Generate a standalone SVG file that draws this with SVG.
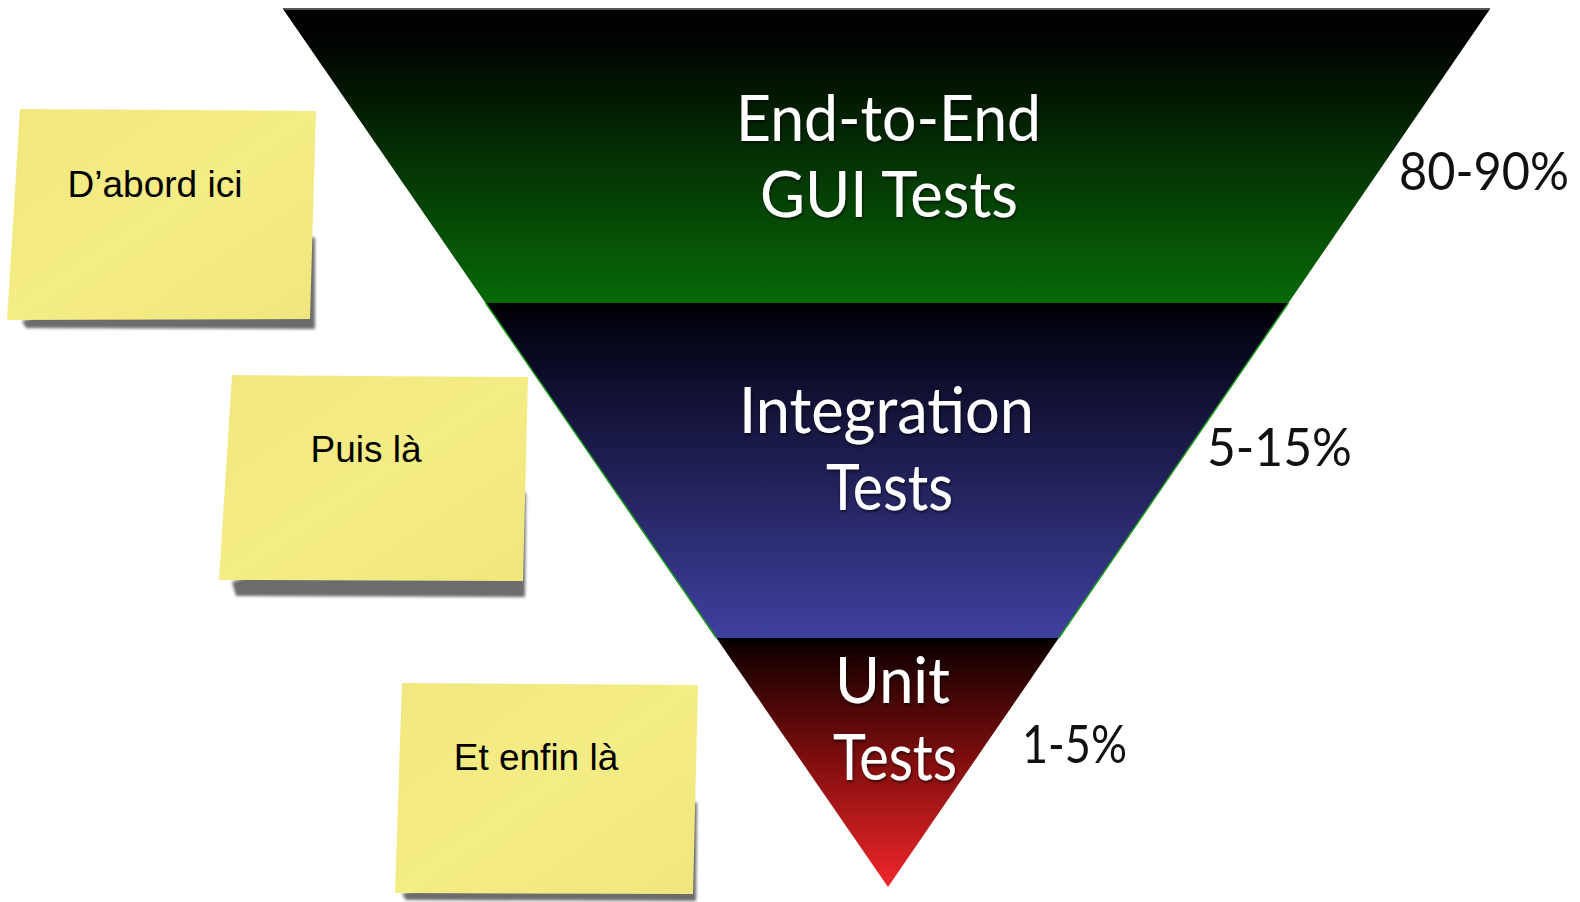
<svg xmlns="http://www.w3.org/2000/svg" width="1580" height="902" viewBox="0 0 1580 902">
<style>
.band-label{font-family:Lato,"Open Sans","DejaVu Sans",sans-serif;fill:#ffffff;text-anchor:middle;font-size:64px;filter:url(#tshadow)}
.pct{font-family:Lato,"Open Sans","DejaVu Sans",sans-serif;fill:#111111;font-size:52px}
.note-text{font-family:"Liberation Sans",Arial,sans-serif;fill:#000000;font-size:37px;text-anchor:middle}
.note{fill:url(#noteFill)}
.shadow{fill:#6c6c6c;filter:url(#blur)}
</style>
<defs>
<linearGradient id="gGreen" x1="0" y1="0" x2="0" y2="1">
<stop offset="0" stop-color="#000000"/>
<stop offset="0.12" stop-color="#010401"/>
<stop offset="1" stop-color="#076a07"/>
</linearGradient>
<linearGradient id="gBlue" x1="0" y1="0" x2="0" y2="1">
<stop offset="0" stop-color="#000000"/>
<stop offset="0.08" stop-color="#040416"/>
<stop offset="1" stop-color="#4040a0"/>
</linearGradient>
<linearGradient id="gRed" x1="0" y1="0" x2="0" y2="1">
<stop offset="0" stop-color="#000000"/>
<stop offset="0.05" stop-color="#160000"/>
<stop offset="0.5" stop-color="#820e0e"/>
<stop offset="1" stop-color="#f0262a"/>
</linearGradient>
<linearGradient id="noteFill" x1="0" y1="0" x2="1" y2="1">
<stop offset="0" stop-color="#f2e77f"/>
<stop offset="0.5" stop-color="#f4ec85"/>
<stop offset="1" stop-color="#f1e67e"/>
</linearGradient>
<filter id="blur" x="-10%" y="-10%" width="120%" height="120%">
<feGaussianBlur stdDeviation="1.5"/>
</filter>
<filter id="tshadow" x="-10%" y="-20%" width="120%" height="140%">
<feDropShadow dx="1" dy="2" stdDeviation="1.5" flood-color="#000000" flood-opacity="0.6"/>
</filter>
</defs>

<g id="band-e2e">
<polygon points="283,9 1490,9 1288.4,303 485.6,303" fill="url(#gGreen)"/>
<line x1="283" y1="9" x2="1490" y2="9" stroke="#555555" stroke-width="2"/>
<text class="band-label" x="888.5" y="141" textLength="305" lengthAdjust="spacingAndGlyphs">End-to-End</text>
<text class="band-label" x="889" y="217" textLength="258" lengthAdjust="spacingAndGlyphs">GUI Tests</text>
</g>

<g id="band-integration">
<polygon points="485.6,303 1288.4,303 1058.8,638 716.4,638" fill="url(#gBlue)"/>
<line x1="485.6" y1="303" x2="716.4" y2="638" stroke="#1c9a1c" stroke-width="1.5"/>
<line x1="1288.4" y1="303" x2="1058.8" y2="638" stroke="#1c9a1c" stroke-width="1.5"/>
<text class="band-label" x="886.5" y="433" textLength="295" lengthAdjust="spacingAndGlyphs">Integration</text>
<text class="band-label" x="889.5" y="510" textLength="127" lengthAdjust="spacingAndGlyphs">Tests</text>
</g>

<g id="band-unit">
<polygon points="716.4,638 1058.8,638 888,887" fill="url(#gRed)"/>
<text class="band-label" x="892.5" y="703" textLength="115" lengthAdjust="spacingAndGlyphs">Unit</text>
<text class="band-label" x="895" y="780" textLength="124" lengthAdjust="spacingAndGlyphs">Tests</text>
</g>

<g id="pct-e2e"><text class="pct" x="1399" y="190" textLength="170" lengthAdjust="spacingAndGlyphs">80-90%</text></g>
<g id="pct-integration"><text class="pct" x="1207" y="466" textLength="145" lengthAdjust="spacingAndGlyphs">5-15%</text></g>
<g id="pct-unit"><text class="pct" x="1022" y="763" textLength="105" lengthAdjust="spacingAndGlyphs">1-5%</text></g>

<g id="note-1">
<polygon class="shadow" points="306,235 315,238 315,329 26,328 22,321"/>
<polygon class="note" points="20,109 316,111 310,319 7,320"/>
<text class="note-text" x="155" y="197">D’abord ici</text>
</g>

<g id="note-2">
<polygon class="shadow" points="518,490 526,493 525,597 236,596 232,582"/>
<polygon class="note" points="232,375 528,377 523,581 219,580"/>
<text class="note-text" x="366" y="462">Puis là</text>
</g>

<g id="note-3">
<polygon class="shadow" points="688,800 697,803 696,901 406,900 402,894"/>
<polygon class="note" points="402,683 698,685 693,894 395,893"/>
<text class="note-text" x="536" y="770">Et enfin là</text>
</g>

<g id="connectors"/>
</svg>
